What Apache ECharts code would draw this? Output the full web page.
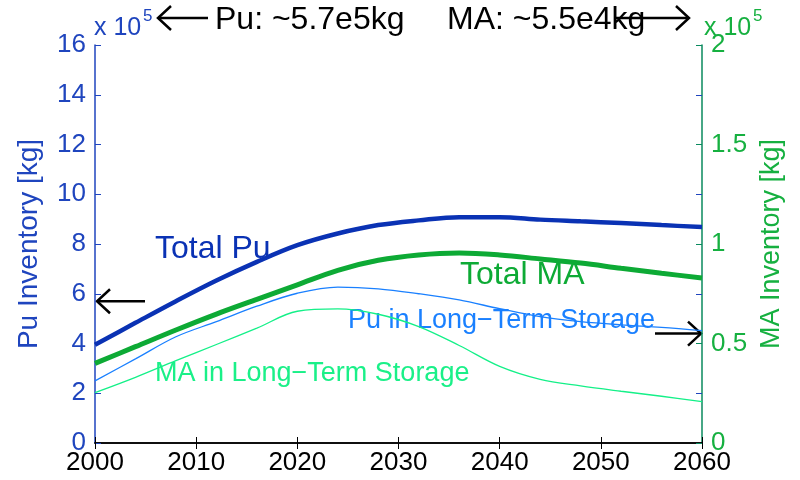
<!DOCTYPE html>
<html lang="en">
<head>
    <meta charset="UTF-8">
    <title>Pu / MA inventory</title>
    <script src="https://cdn.jsdelivr.net/npm/echarts@6/dist/echarts.min.js"></script>
    <style>
        body { margin: 0; background: #fff; }
        #main { width: 800px; height: 480px; }
    </style>
</head>
<body>
<div id="main"></div>
<script type="text/javascript">
    // data (Pu on left axis, MA on right axis, both x 1e5 kg)
    var years = [2000, 2004, 2008, 2012, 2016, 2020, 2024, 2028, 2032, 2036, 2040, 2044, 2048, 2052, 2056, 2060];
    var totalPu = [3.95, 4.83, 5.7, 6.53, 7.28, 7.95, 8.42, 8.76, 8.95, 9.08, 9.08, 8.98, 8.91, 8.84, 8.76, 8.68];
    var puStorage = [2.5, 3.38, 4.27, 4.88, 5.5, 6.02, 6.27, 6.2, 6.0, 5.75, 5.4, 5.08, 4.88, 4.75, 4.65, 4.52];
    var totalMA = [0.40, 0.484, 0.568, 0.648, 0.722, 0.795, 0.868, 0.918, 0.945, 0.955, 0.945, 0.925, 0.904, 0.878, 0.853, 0.829];
    var maStorage = [0.253, 0.33, 0.414, 0.495, 0.577, 0.662, 0.674, 0.647, 0.585, 0.49, 0.385, 0.32, 0.287, 0.26, 0.235, 0.208];

    var FONT = 'Liberation Sans, Arial, sans-serif';
    var BLUE = '#1F45BE';
    var GREEN = '#16B040';

    function pairs(arr) {
        return years.map(function (y, i) { return [y, arr[i]]; });
    }

    function txt(x, y, text, size, color, align) {
        return {
            type: 'text', x: x, y: y, silent: true,
            style: { text: text, fill: color, fontSize: size, fontFamily: FONT, align: align || 'left', verticalAlign: 'middle' }
        };
    }

    function arrow(x1, y, x2, color) {
        // tip at x1
        var d = x2 > x1 ? 13 : -13;
        return [
            { type: 'polyline', silent: true, shape: { points: [[x1, y], [x2, y]] }, style: { stroke: color, lineWidth: 2.5, fill: null } },
            { type: 'polyline', silent: true, shape: { points: [[x1 + d, y - 12], [x1, y], [x1 + d, y + 12]] }, style: { stroke: color, lineWidth: 2.5, fill: null } }
        ];
    }

    var chart = echarts.init(document.getElementById('main'));

    var option = {
        animation: false,
        backgroundColor: '#fff',
        grid: { left: 95, right: 98, top: 45, bottom: 37 },
        xAxis: [
            {
                type: 'value', min: 2000, max: 2060, interval: 10, position: 'bottom',
                axisLine: { lineStyle: { color: '#000', width: 1.5 } },
                axisTick: { inside: true, length: 6, lineStyle: { color: '#000' } },
                axisLabel: { color: '#000', fontSize: 26, fontFamily: FONT, margin: 7, formatter: function (v) { return String(v); } },
                splitLine: { show: false }
            },
            {
                type: 'value', min: 2000, max: 2060, interval: 10, position: 'top',
                axisLine: { lineStyle: { color: '#000', width: 1.5 } },
                axisTick: { inside: true, length: 6, lineStyle: { color: '#000' } },
                axisLabel: { show: false },
                splitLine: { show: false }
            }
        ],
        yAxis: [
            {
                type: 'value', min: 0, max: 16, interval: 2, position: 'left',
                name: 'Pu Inventory [kg]', nameLocation: 'middle', nameGap: 52,
                nameTextStyle: { color: BLUE, fontSize: 28, fontFamily: FONT },
                axisLine: { show: true, lineStyle: { color: BLUE, width: 1.5 } },
                axisTick: { inside: true, length: 6, lineStyle: { color: BLUE } },
                axisLabel: { color: BLUE, fontSize: 26, fontFamily: FONT, margin: 9 },
                splitLine: { show: false }
            },
            {
                type: 'value', min: 0, max: 2, interval: 0.5, position: 'right',
                name: 'MA Inventory [kg]', nameLocation: 'middle', nameGap: 55,
                nameTextStyle: { color: GREEN, fontSize: 27, fontFamily: FONT },
                axisLine: { show: true, lineStyle: { color: '#0A8A5E', width: 1.5 } },
                axisTick: { inside: true, length: 6, lineStyle: { color: '#0A8A5E' } },
                minorTick: { show: true, splitNumber: 2, length: 6, lineStyle: { color: BLUE } },
                axisLabel: { color: GREEN, fontSize: 26, fontFamily: FONT, margin: 9 },
                splitLine: { show: false }
            }
        ],
        series: [
            {
                name: 'Total Pu', type: 'line', yAxisIndex: 0, smooth: 0.35, symbol: 'none',
                lineStyle: { color: '#0A32B4', width: 4.5 }, data: pairs(totalPu), z: 4
            },
            {
                name: 'Total MA', type: 'line', yAxisIndex: 1, smooth: 0.35, symbol: 'none',
                lineStyle: { color: '#0DAA35', width: 5 }, data: pairs(totalMA), z: 3
            },
            {
                name: 'Pu in Long-Term Storage', type: 'line', yAxisIndex: 0, smooth: 0.35, symbol: 'none',
                lineStyle: { color: '#1A80FF', width: 1.3 }, data: pairs(puStorage), z: 2
            },
            {
                name: 'MA in Long-Term Storage', type: 'line', yAxisIndex: 1, smooth: 0.35, symbol: 'none',
                lineStyle: { color: '#14F088', width: 1.3 }, data: pairs(maStorage), z: 2
            }
        ]
    };
    chart.setOption(option);

    // arrows pointing at the values quoted on top
    var tipL = chart.convertToPixel({ xAxisIndex: 0, yAxisIndex: 0 }, [2000, 5.7]);
    var tipR = chart.convertToPixel({ xAxisIndex: 0, yAxisIndex: 1 }, [2060, 0.55]);

    var graphics = [
        txt(155, 249, 'Total Pu', 32, '#0A32B4'),
        txt(460, 275, 'Total MA', 32, '#0DAA35'),
        txt(348, 321, 'Pu in Long\u2212Term Storage', 27, '#1A80FF'),
        txt(155, 374, 'MA in Long\u2212Term Storage', 27, '#1AF088'),
        txt(215, 20, 'Pu: ~5.7e5kg', 32, '#000'),
        txt(447, 20, 'MA: ~5.5e4kg', 32, '#000'),
        txt(94, 28, 'x 10', 25, BLUE),
        txt(143, 16, '5', 17, BLUE),
        txt(704, 28, 'x 10', 25, GREEN),
        txt(753, 16, '5', 17, GREEN)
    ];
    graphics = graphics
        .concat(arrow(158, 18, 208, '#000'))
        .concat(arrow(689, 18, 616, '#000'))
        .concat(arrow(tipL[0] + 2, tipL[1], tipL[0] + 50, '#000'))
        .concat(arrow(tipR[0] - 1, tipR[1], tipR[0] - 47, '#000'));

    chart.setOption({ graphic: graphics });
</script>
</body>
</html>
